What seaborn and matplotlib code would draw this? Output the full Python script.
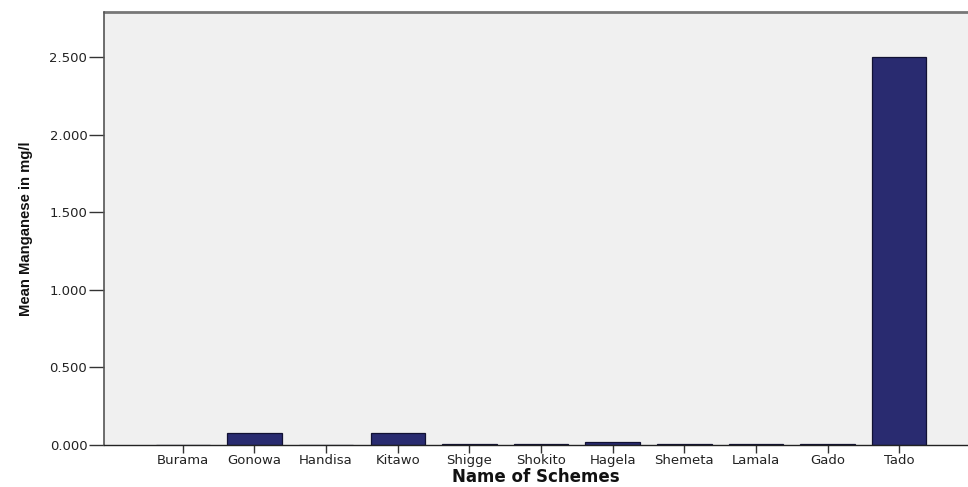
import matplotlib
matplotlib.use("Agg")
import matplotlib.pyplot as plt
import seaborn as sns
import pandas as pd
from matplotlib.ticker import FormatStrFormatter

schemes = ["Burama", "Gonowa", "Handisa", "Kitawo", "Shigge", "Shokito",
           "Hagela", "Shemeta", "Lamala", "Gado", "Tado"]
mean_mn = [0.001, 0.08, 0.001, 0.08, 0.004, 0.005,
           0.02, 0.004, 0.004, 0.005, 2.5]
y_ticks = [0.0, 0.5, 1.0, 1.5, 2.0, 2.5]

df = pd.DataFrame({"scheme": schemes, "mn": mean_mn})

sns.set_style("white")
plt.rcParams["font.family"] = ["DejaVu Sans"]

fig = plt.figure(figsize=(9.68, 4.87), dpi=100)
ax = fig.add_axes([104 / 968, 42 / 487, 1 - 104 / 968, 433 / 487])
ax.set_facecolor("#f0f0f0")

sns.barplot(data=df, x="scheme", y="mn", ax=ax, color="#292b70",
            saturation=1, width=0.76, edgecolor="#111133", linewidth=0.9)

ax.set_xlim(-1.10, 10.96)
ax.set_ylim(0, 2.79)
ax.set_yticks(y_ticks)
ax.yaxis.set_major_formatter(FormatStrFormatter("%.3f"))

for side in ["top", "right"]:
    ax.spines[side].set_visible(False)
ax.spines["left"].set_color("#555555")
ax.spines["left"].set_linewidth(1.2)
ax.spines["bottom"].set_color("#222222")
ax.spines["bottom"].set_linewidth(1.0)
# grey frame line along the top of the plot area
ax.axhline(2.79, color="#777777", linewidth=2.0, clip_on=False)

ax.tick_params(axis="both", direction="out", width=1, color="#333333",
               labelsize=9.5, labelcolor="#222222", bottom=True, left=True)
ax.tick_params(axis="x", length=6, pad=0.5)
ax.tick_params(axis="y", length=11, pad=1)

ax.set_xlabel("Name of Schemes", fontsize=12, fontweight="bold",
              labelpad=1, color="#111111")
ax.set_ylabel("Mean Manganese in mg/l", fontsize=10.7, fontweight="bold",
              family=["Liberation Sans", "DejaVu Sans"],
              color="#111111")
ax.yaxis.set_label_coords(-0.082, 0.5)

fig.savefig("out.png", dpi=100)
